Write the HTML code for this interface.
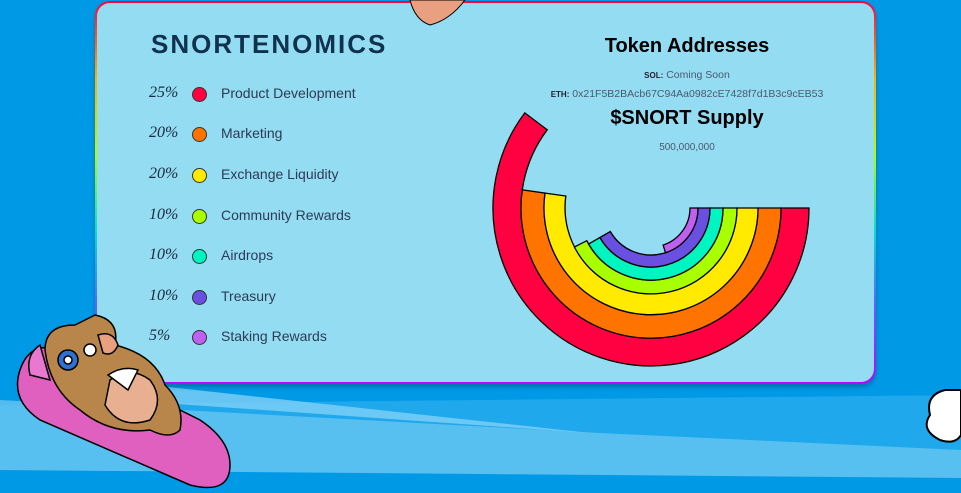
<!DOCTYPE html>
<html><head><meta charset="utf-8"><style>
*{margin:0;padding:0;box-sizing:border-box}
body{width:961px;height:493px;overflow:hidden;background:#0099e6;position:relative;font-family:"Liberation Sans",sans-serif}
.wrap{position:absolute;left:95px;top:1px;width:781px;height:383px;border-radius:15px;background:linear-gradient(180deg,#ff0040 0%,#ffb000 20%,#b0ff00 40%,#00e0d0 60%,#6060ff 80%,#c000ff 100%);padding:2px;box-shadow:0 3px 4px rgba(0,0,0,.25)}
.card{width:100%;height:100%;border-radius:13px;background:#93dcf1;position:relative}
.t{position:absolute;white-space:nowrap}
.h{font-weight:bold;color:#10324f;font-size:26px;letter-spacing:2px}
.pc{font-family:"Liberation Serif",serif;font-style:italic;font-size:16px;color:#1a2a40}
.dot{position:absolute;width:15px;height:15px;border-radius:50%;border:1px solid #333}
.lb{font-size:14px;color:#2d3b55}
</style></head><body>
<svg width="961" height="493" style="position:absolute;left:0;top:0">
<polygon points="0,405 961,395 961,493 0,493" fill="#1fa8ec"/>
<polygon points="0,400 600,433 961,450 961,493 0,493" fill="#66c4f3" opacity=".8"/>
<polygon points="150,385 590,433 120,400" fill="#7fd0f6" opacity=".8"/>
<polygon points="0,470 961,478 961,493 0,493" fill="#0099e6"/>
<path d="M945 390 q-20 5 -15 25 q-10 15 10 25 q15 5 21 -5 L961 390 Z" fill="#fff" stroke="#000" stroke-width="2"/>
</svg>
<div class="wrap"><div class="card">
<div class="t h" style="left:54px;top:26px">SNORTENOMICS</div>
<div class="t" style="left:405px;top:32px;width:370px;text-align:center;font-weight:bold;font-size:20px;color:#000">Token Addresses</div>
<div class="t" style="left:405px;top:66px;width:370px;text-align:center;font-size:10.5px;color:#4a5a70"><b style="font-size:8px;color:#223">SOL:</b> Coming Soon</div>
<div class="t" style="left:405px;top:85px;width:370px;text-align:center;font-size:10.5px;color:#4a5a70"><b style="font-size:8px;color:#223">ETH:</b> 0x21F5B2BAcb67C94Aa0982cE7428f7d1B3c9cEB53</div>
<div class="t" style="left:405px;top:104px;width:370px;text-align:center;font-weight:bold;font-size:20px;color:#000">$SNORT Supply</div>
<div class="t" style="left:405px;top:139px;width:370px;text-align:center;font-size:10px;color:#4a5a70">500,000,000</div>
</div></div>
<div id="leg"></div>
<svg id="ch" width="961" height="493" style="position:absolute;left:0;top:0"></svg>
<svg width="961" height="493" style="position:absolute;left:0;top:0">
<path d="M410 0 q5 20 20 25 q20 -5 35 -25 Z" fill="#e8a080" stroke="#000"/>
<g stroke="#000" stroke-width="1.5">
<path d="M20 370 q-10 30 20 50 l150 65 q40 10 40 -20 q0 -25 -30 -45 l-140 -70 q-30 -10 -40 20z" fill="#e060c0"/>
<path d="M40 345 q-15 10 -10 30 l20 5 z" fill="#e878d0"/>
<path d="M45 350 q0 -25 30 -25 l20 -10 q25 5 20 30 q40 10 50 40 q20 20 15 45 q-10 10 -30 0 q-40 5 -70 -20 q-30 -20 -35 -60z" fill="#b8864a"/>
<path d="M110 380 q20 -15 40 0 q15 20 0 40 q-30 10 -45 -15z" fill="#e8b090"/>
<path d="M108 375 q15 -10 30 -5 l-10 20 z" fill="#fff"/>
<circle cx="68" cy="360" r="10" fill="#3070d0"/><circle cx="68" cy="360" r="4" fill="#fff"/>
<circle cx="90" cy="350" r="6" fill="#fff"/>
<path d="M98 335 q15 -5 20 10 q-5 12 -15 8z" fill="#e8a080"/>
</g>
</svg>
<script>
const L=[["25%","#ff0040","Product Development",94],["20%","#ff7300","Marketing",134],["20%","#ffea00","Exchange Liquidity",175],["10%","#a8ff00","Community Rewards",216],["10%","#00f5c0","Airdrops",256],["10%","#6a50e0","Treasury",297],["5%","#c060f0","Staking Rewards",337]];
let h="";
for(const [p,c,l,y] of L){
h+=`<div class="t pc" style="left:149px;top:${y-10}px">${p}</div><div class="dot" style="left:192px;top:${y-7}px;background:${c}"></div><div class="t lb" style="left:221px;top:${y-9}px">${l}</div>`;}
document.getElementById("leg").innerHTML=h;
const cx=651,cy=208;
const R=[[158,130,217,"#ff0040"],[130,107,188,"#ff7300"],[107,86,188,"#ffea00"],[86,72,153,"#a8ff00"],[72,59,150,"#00f5c0"],[59,47,150,"#6a50e0"],[47,39,72,"#c060f0"]];
let s="";
for(const [ro,ri,a,c] of R){
const r=a*Math.PI/180,lg=a>180?1:0;
const p=(rad,t)=>[(cx+rad*Math.cos(t)).toFixed(1),(cy+rad*Math.sin(t)).toFixed(1)];
const [x1,y1]=p(ro,0),[x2,y2]=p(ro,r),[x3,y3]=p(ri,r),[x4,y4]=p(ri,0);
s+=`<path d="M${x1} ${y1} A${ro} ${ro} 0 ${lg} 1 ${x2} ${y2} L${x3} ${y3} A${ri} ${ri} 0 ${lg} 0 ${x4} ${y4}Z" fill="${c}" stroke="#000" stroke-width="1.3"/>`;}
document.getElementById("ch").innerHTML=s;
</script>
</body></html>
